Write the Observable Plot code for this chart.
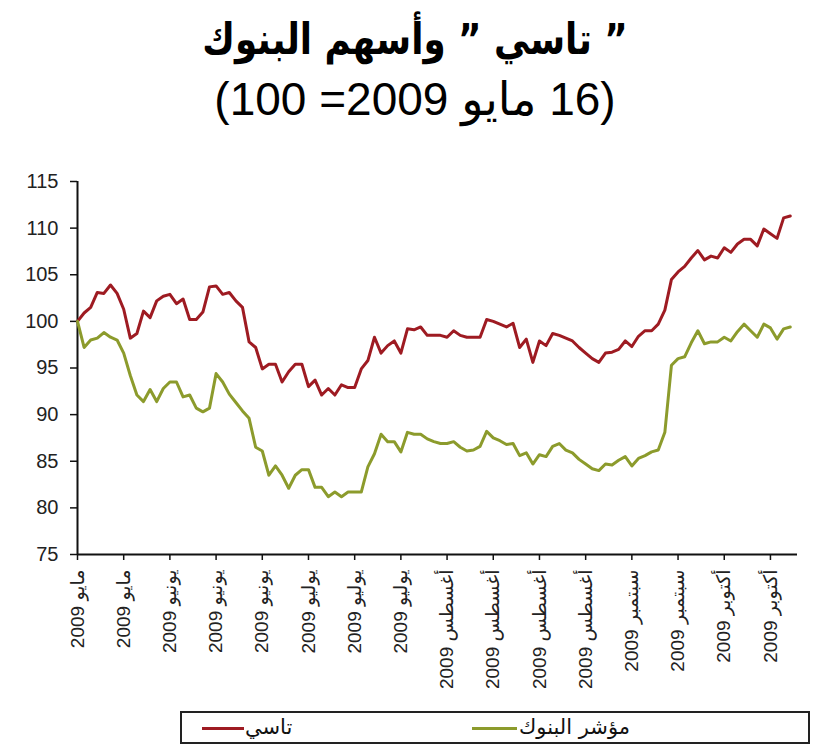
<!DOCTYPE html>
<html>
<head>
<meta charset="utf-8">
<script src="https://cdn.jsdelivr.net/npm/d3@7"></script>
<script src="https://cdn.jsdelivr.net/npm/@observablehq/plot@0.6"></script>
<style>
  html, body { margin: 0; padding: 0; background: #fff; }
  body { width: 830px; height: 749px; position: relative; overflow: hidden; font-family: "Liberation Sans", "DejaVu Sans", sans-serif; }
  .title1 { position: absolute; top: 14px; left: 0; width: 830px; text-align: center; direction: rtl;
            font: bold 43px "DejaVu Sans", sans-serif; line-height: 50px; color: #000; transform: scaleX(0.83); transform-origin: 415px 0; }
  .title2 { position: absolute; top: 73px; left: 0; width: 830px; text-align: center; direction: rtl;
            font: 46px "Liberation Sans", "DejaVu Sans", sans-serif; line-height: 52px; color: #000; }
  #chart { position: absolute; top: 160px; left: 0; }
  .legend { position: absolute; left: 180px; top: 711px; width: 630px; height: 33px; border: 2px solid #222; box-sizing: border-box; }
  .legend .sw { position: absolute; top: 14px; height: 3px; }
  .legend .lb { position: absolute; top: 0px; font: 21px "DejaVu Sans", sans-serif; line-height: 28px; color: #111; direction: rtl; }
  #chart svg g[aria-label="y-axis tick label"] text, #chart svg g[aria-label="x-axis tick label"] text { fill: #222; }
</style>
</head>
<body>
<div class="title1">” تاسي ” وأسهم البنوك</div>
<div class="title2">(16 مايو 2009= 100)</div>
<div id="chart"></div>
<div class="legend" id="legend"></div>
<script>
// Tick labels (one every 7 trading days)
const tickLabels = ["مايو 2009","مايو 2009","يونيو 2009","يونيو 2009","يونيو 2009","يوليو 2009","يوليو 2009","يوليو 2009","أغسطس 2009","أغسطس 2009","أغسطس 2009","أغسطس 2009","سبتمبر 2009","سبتمبر 2009","أكتوبر 2009","أكتوبر 2009"];
const seriesNames = ["تاسي", "مؤشر البنوك"];
const seriesColors = ["#9e1b22", "#8c9b2c"];

// تاسي (TASI) index, 16 May 2009 = 100
const tasi = [100.0,100.9,101.5,103.1,103.0,103.9,103.0,101.3,98.2,98.7,
  101.1,100.4,102.2,102.7,102.9,101.9,102.4,100.2,100.2,101.0,
  103.7,103.8,102.9,103.1,102.2,101.5,97.8,97.2,94.9,95.4,
  95.4,93.5,94.6,95.4,95.4,93.0,93.7,92.1,92.8,92.1,
  93.2,92.9,92.9,94.9,95.8,98.3,96.6,97.4,97.9,96.6,
  99.2,99.1,99.4,98.5,98.5,98.5,98.3,99.0,98.5,98.3,
  98.3,98.3,100.2,100.0,99.7,99.4,99.8,97.2,98.1,95.6,
  97.9,97.4,98.7,98.5,98.2,97.9,97.2,96.6,96.0,95.6,
  96.6,96.7,97.0,97.9,97.3,98.4,99.0,99.0,99.7,101.2,
  104.5,105.3,105.9,106.8,107.6,106.6,107.0,106.8,107.9,107.4,
  108.3,108.8,108.8,108.1,109.9,109.4,108.9,111.1,111.3];

// مؤشر البنوك (banks index), 16 May 2009 = 100
const banks = [100.0,97.2,98.0,98.2,98.8,98.3,98.0,96.6,94.2,92.1,
  91.4,92.7,91.4,92.8,93.5,93.5,91.9,92.1,90.7,90.3,
  90.7,94.4,93.5,92.2,91.3,90.4,89.6,86.5,86.1,83.5,
  84.5,83.5,82.1,83.5,84.1,84.1,82.2,82.2,81.2,81.7,
  81.2,81.7,81.7,81.7,84.4,85.8,87.9,87.1,87.1,86.0,
  88.1,87.9,87.9,87.4,87.1,86.9,86.9,87.1,86.5,86.1,
  86.2,86.6,88.2,87.5,87.2,86.8,86.9,85.6,85.9,84.7,
  85.7,85.5,86.6,86.9,86.2,85.9,85.2,84.7,84.2,84.0,
  84.7,84.6,85.1,85.5,84.5,85.3,85.6,86.0,86.2,88.1,
  95.3,96.0,96.2,97.7,99.0,97.6,97.8,97.8,98.3,97.9,
  98.9,99.7,99.0,98.3,99.7,99.3,98.1,99.2,99.4];

const yTicks = [75, 80, 85, 90, 95, 100, 105, 110, 115];
const tickStep = 7;

const rows = [];
tasi.forEach((v, i) => rows.push({i, v, s: seriesNames[0]}));
banks.forEach((v, i) => rows.push({i, v, s: seriesNames[1]}));

const chart = Plot.plot({
  width: 830,
  height: 540,
  marginLeft: 77,
  marginRight: 33,
  marginTop: 21,
  marginBottom: 146,
  style: { fontFamily: "Liberation Sans, DejaVu Sans, sans-serif", color: "#222", background: "#fff" },
  x: { type: "linear", domain: [0, 109.1] },
  y: { domain: [75, 115] },
  color: { domain: seriesNames, range: seriesColors },
  marks: [
    Plot.axisY({ ticks: yTicks, tickSize: 7, tickPadding: 12, fontSize: 20, stroke: "#111", strokeWidth: 1.5,
      tickFormat: d => String(d), label: null }),
    Plot.axisX({ ticks: d3.range(0, tickLabels.length * tickStep, tickStep), tickSize: 6, tickPadding: 9,
      tickRotate: -90, fontSize: 19, stroke: "#111", strokeWidth: 1.5, tickFormat: d => tickLabels[d / tickStep], label: null }),
    Plot.ruleX([0], { y1: 75, y2: 115, stroke: "#111", strokeWidth: 2 }),
    Plot.ruleY([75], { stroke: "#111", strokeWidth: 2 }),
    Plot.line(rows, { x: "i", y: "v", z: "s", stroke: "s", strokeWidth: 3, strokeLinejoin: "round" })
  ]
});
document.getElementById("chart").appendChild(chart);

// Legend
const legend = document.getElementById("legend");
const legendItems = [
  { name: seriesNames[0], color: seriesColors[0], lineLeft: 20, lineW: 42, textLeft: 63 },
  { name: seriesNames[1], color: seriesColors[1], lineLeft: 290, lineW: 45, textLeft: 337 }
];
legendItems.forEach(it => {
  const sw = document.createElement("div");
  sw.className = "sw";
  sw.style.left = it.lineLeft + "px";
  sw.style.width = it.lineW + "px";
  sw.style.background = it.color;
  legend.appendChild(sw);
  const lb = document.createElement("div");
  lb.className = "lb";
  lb.style.left = it.textLeft + "px";
  lb.textContent = it.name;
  legend.appendChild(lb);
});
</script>
</body>
</html>
